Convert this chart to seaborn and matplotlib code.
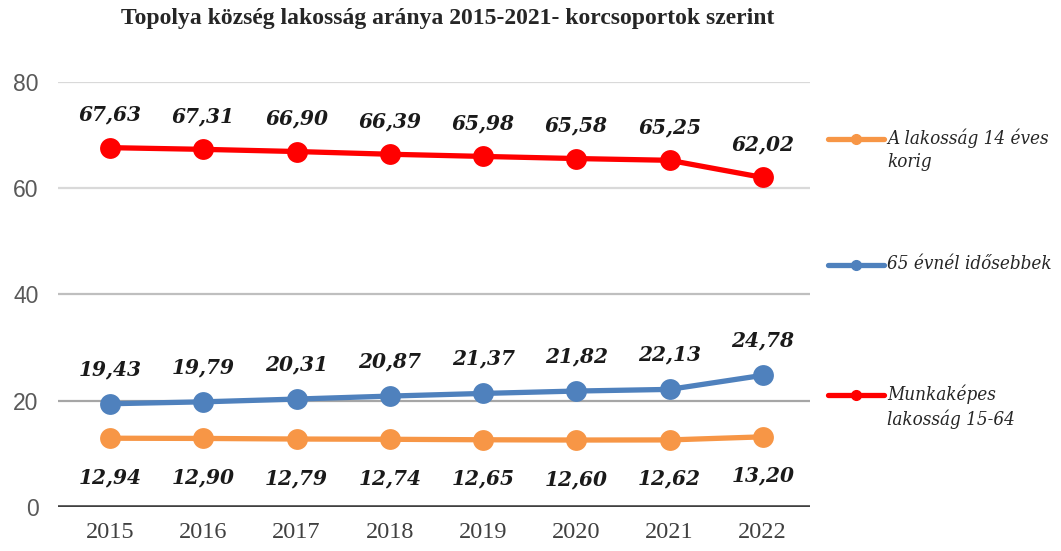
import pandas as pd
import matplotlib.pyplot as plt
import seaborn as sns

years = [2015, 2016, 2017, 2018, 2019, 2020, 2021, 2022]
children = [12.94, 12.90, 12.79, 12.74, 12.65, 12.60, 12.62, 13.20]
elderly = [19.43, 19.79, 20.31, 20.87, 21.37, 21.82, 22.13, 24.78]
working = [67.63, 67.31, 66.90, 66.39, 65.98, 65.58, 65.25, 62.02]

series_names = ["A lakosság 14 éves\nkorig", "65 évnél idősebbek", "Munkaképes\nlakosság 15-64"]
colors = ["#F79646", "#4F81BD", "#FF0000"]

df = pd.DataFrame({
    "year": years * 3,
    "value": children + elderly + working,
    "series": [series_names[0]] * 8 + [series_names[1]] * 8 + [series_names[2]] * 8,
})

sns.set_style("white")
W, H = 1061, 551
fig = plt.figure(figsize=(W / 100, H / 100), dpi=100)
ax = fig.add_axes([0.0547, 0.0799, 0.709, 0.7714])

# gridlines first so the lines sit on top
grid_colors = {20: "#a6a6a6", 40: "#bfbfbf", 60: "#d9d9d9", 80: "#d9d9d9"}
for yv, c in grid_colors.items():
    ax.axhline(yv, color=c, lw=1.6, zorder=0)
ax.axhline(0, color="#404040", lw=2.6, zorder=1)

sns.lineplot(data=df, x="year", y="value", hue="series", palette=colors,
             marker="o", markersize=15, markeredgewidth=0, linewidth=3.8,
             ax=ax, legend=False, zorder=3)

label_font = dict(family="DejaVu Serif", fontsize=14.5, fontweight="bold",
                  style="italic", color="#1a1a1a", ha="center", va="center")
for x, v in zip(years, working):
    ax.annotate(f"{v:.2f}".replace(".", ","), (x, v), xytext=(0, 24),
                textcoords="offset points", **label_font)
for x, v in zip(years, elderly):
    ax.annotate(f"{v:.2f}".replace(".", ","), (x, v), xytext=(0, 25),
                textcoords="offset points", **label_font)
for x, v in zip(years, children):
    ax.annotate(f"{v:.2f}".replace(".", ","), (x, v), xytext=(0, -28),
                textcoords="offset points", **label_font)

ax.set_xlim(2014.44, 2022.51)
ax.set_ylim(0, 80)
ax.set_yticks([0, 20, 40, 60, 80])
ax.set_xticks(years)
ax.set_xticklabels([str(y) for y in years], family="Liberation Serif",
                   fontsize=17.5, color="#404040")
ax.set_yticklabels(["0", "20", "40", "60", "80"], family="Liberation Sans",
                   fontsize=16.5, color="#595959")
ax.tick_params(axis="x", length=0, pad=11)
ax.tick_params(axis="y", length=0, pad=14)
ax.set_xlabel("")
ax.set_ylabel("")
for s in ax.spines.values():
    s.set_visible(False)

fig.suptitle("Topolya község lakosság aránya 2015-2021- korcsoportok szerint",
             x=0.422, y=0.985, family="Liberation Serif", fontweight="bold",
             fontsize=17)

# legend drawn by hand so the marker lines up with the first text line
legend_rows = [139, 265, 395]
for name, c, ypx in zip(series_names, colors, legend_rows):
    yf = 1 - ypx / H
    fig.add_artist(plt.Line2D([828 / W, 884 / W], [yf, yf], color=c, lw=3.8,
                              transform=fig.transFigure))
    fig.add_artist(plt.Line2D([856 / W], [yf], color=c, marker="o",
                              markersize=7, transform=fig.transFigure))
    fig.text(887 / W, yf + 10 / H, name, ha="left", va="top",
             family="DejaVu Serif", style="italic", fontsize=13.5,
             fontstretch="condensed", color="#262626", linespacing=1.35)

fig.savefig("out.png", dpi=100)
